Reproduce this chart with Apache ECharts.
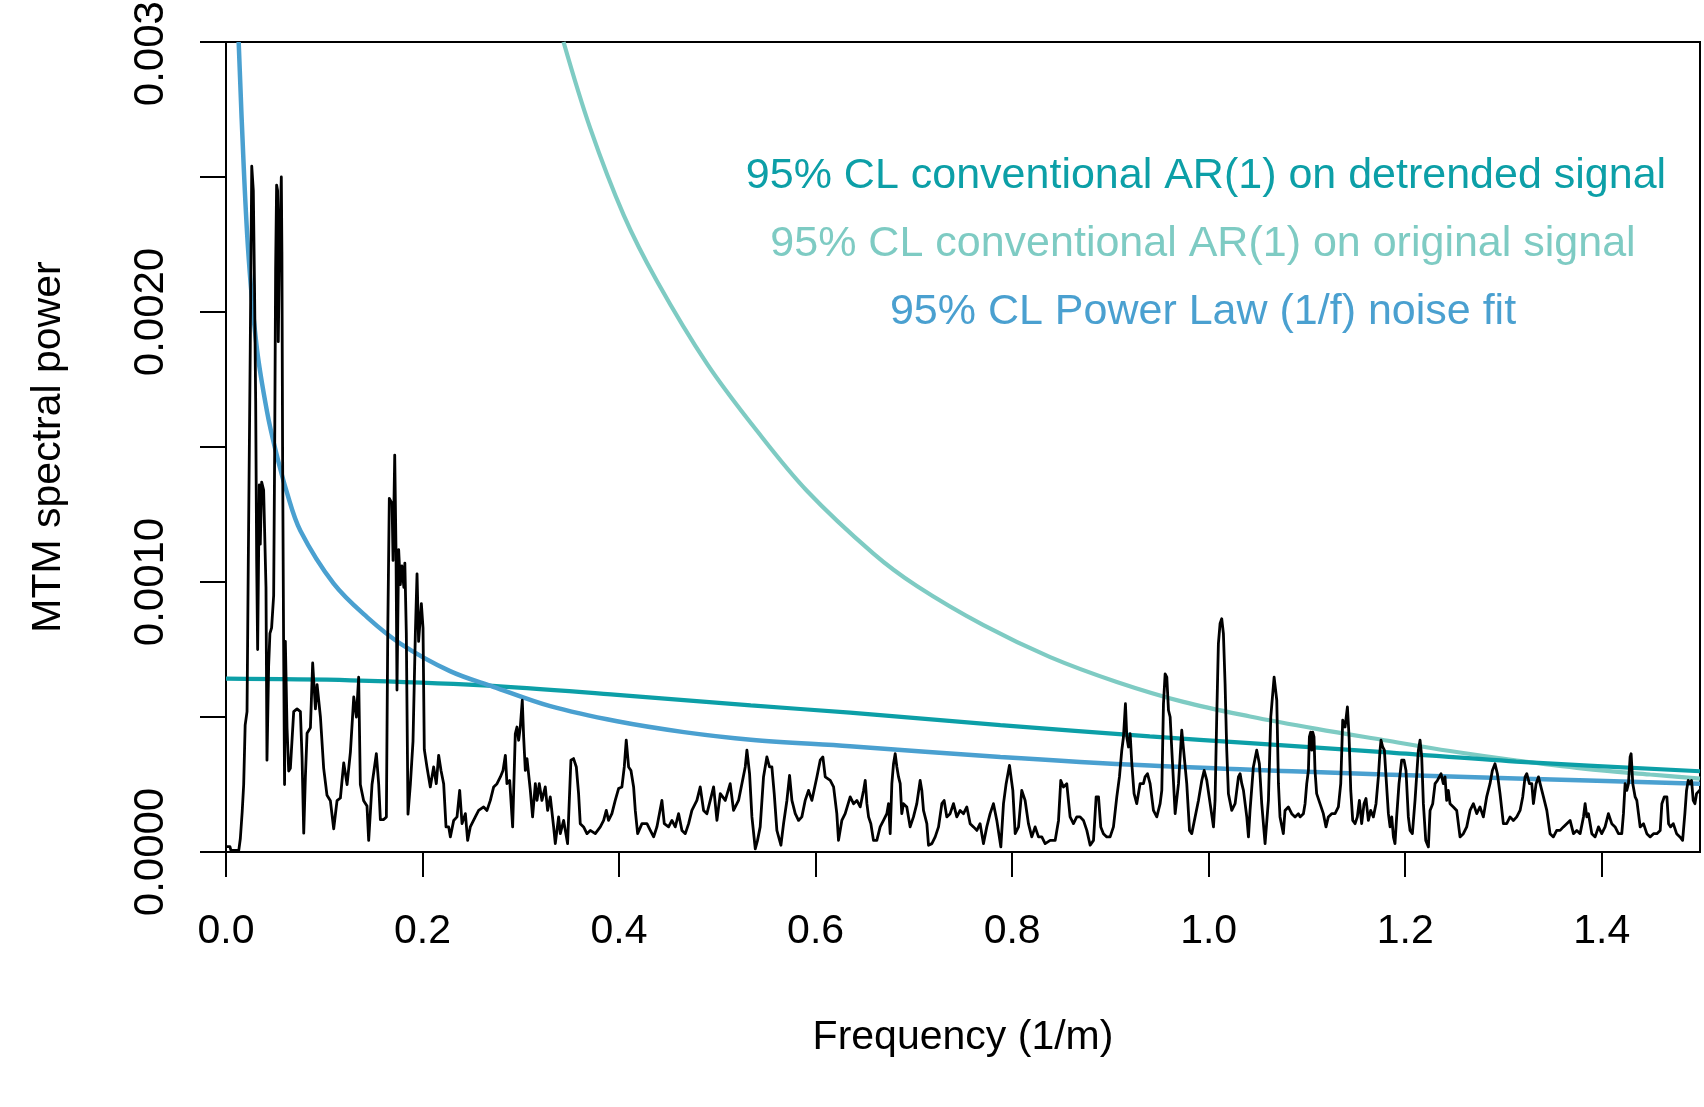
<!DOCTYPE html>
<html><head><meta charset="utf-8">
<script src="https://cdn.jsdelivr.net/npm/echarts@6/dist/echarts.min.js"></script>
<style>html,body{margin:0;padding:0;background:#fff}#chart{width:1704px;height:1107px}</style>
</head><body><div id="chart"></div>
<script>
// ---------- data (frequency in 1/m, MTM spectral power) ----------
const xTickValues = [0, 0.2, 0.4, 0.6, 0.8, 1.0, 1.2, 1.4];
const xTickLabels = ['0.0', '0.2', '0.4', '0.6', '0.8', '1.0', '1.2', '1.4'];
const yTickValues = [0, 0.0005, 0.001, 0.0015, 0.002, 0.0025, 0.003];
const yLabelValues = [0, 0.001, 0.002, 0.003];
const yLabelTexts = ['0.0000', '0.0010', '0.0020', '0.0030'];

const legendTexts = [
  '95% CL conventional AR(1) on detrended signal',
  '95% CL conventional AR(1) on original signal',
  '95% CL Power Law (1/f) noise fit'
];

// MTM spectrum (black)
const spectrum = [
  [0,0.02e-3],[0.004,0.02e-3],[0.005,0.006e-3],[0.013,0.006e-3],[0.0146,0.05e-3],[0.0165,0.15e-3],[0.018,0.25e-3],
  [0.0195,0.47e-3],[0.0214,0.52e-3],[0.0227,1.08e-3],[0.0247,1.87e-3],[0.0262,2.54e-3],[0.0278,2.45e-3],[0.029,2.10e-3],
  [0.0302,1.67e-3],[0.0312,1.08e-3],[0.0322,0.75e-3],[0.0339,1.36e-3],[0.0349,1.14e-3],[0.0363,1.37e-3],[0.0383,1.34e-3],
  [0.0397,1.34e-3],[0.0407,0.98e-3],[0.0417,0.34e-3],[0.0434,0.69e-3],[0.0447,0.81e-3],[0.0464,0.83e-3],[0.0485,0.95e-3],
  [0.0495,1.47e-3],[0.0505,2.16e-3],[0.0515,2.47e-3],[0.0525,2.45e-3],[0.0532,1.89e-3],[0.0542,2.18e-3],[0.0553,2.36e-3],
  [0.0563,2.50e-3],[0.0569,2.22e-3],[0.0576,1.47e-3],[0.0586,0.79e-3],[0.0596,0.25e-3],[0.0604,0.78e-3],[0.0621,0.46e-3],
  [0.0638,0.30e-3],[0.0655,0.31e-3],[0.0689,0.52e-3],[0.0723,0.53e-3],[0.0757,0.52e-3],[0.0774,0.35e-3],[0.0791,0.07e-3],
  [0.0808,0.28e-3],[0.0825,0.44e-3],[0.0859,0.46e-3],[0.0882,0.70e-3],[0.0910,0.53e-3],[0.0927,0.62e-3],[0.0961,0.50e-3],
  [0.0994,0.31e-3],[0.1028,0.21e-3],[0.1062,0.19e-3],[0.1096,0.086e-3],[0.1130,0.19e-3],[0.1164,0.20e-3],[0.1198,0.33e-3],
  [0.1232,0.25e-3],[0.1266,0.37e-3],[0.1300,0.574e-3],[0.1327,0.50e-3],[0.1350,0.648e-3],[0.1367,0.25e-3],[0.1401,0.19e-3],
  [0.1435,0.17e-3],[0.1452,0.043e-3],[0.1486,0.25e-3],[0.1530,0.364e-3],[0.1554,0.25e-3],[0.1571,0.12e-3],[0.1605,0.12e-3],
  [0.1632,0.13e-3],[0.1646,0.81e-3],[0.1662,1.31e-3],[0.1690,1.29e-3],[0.1700,1.08e-3],[0.1717,1.47e-3],[0.1730,1.12e-3],
  [0.1740,0.60e-3],[0.1757,1.12e-3],[0.1774,0.99e-3],[0.1790,1.06e-3],[0.1810,0.98e-3],[0.1820,1.07e-3],[0.1835,0.81e-3],
  [0.1852,0.14e-3],[0.1876,0.25e-3],[0.1903,0.41e-3],[0.1927,0.81e-3],[0.1944,1.03e-3],[0.1960,0.78e-3],[0.1988,0.92e-3],
  [0.2005,0.83e-3],[0.2018,0.38e-3],[0.2045,0.315e-3],[0.2079,0.241e-3],[0.2113,0.315e-3],[0.2140,0.253e-3],[0.2164,0.358e-3],
  [0.2188,0.302e-3],[0.2215,0.253e-3],[0.2239,0.093e-3],[0.2266,0.093e-3],[0.2283,0.056e-3],[0.2317,0.117e-3],[0.2351,0.130e-3],
  [0.2378,0.228e-3],[0.2402,0.105e-3],[0.2436,0.142e-3],[0.2459,0.043e-3],[0.2486,0.093e-3],[0.2537,0.130e-3],[0.2571,0.154e-3],
  [0.2622,0.167e-3],[0.2656,0.154e-3],[0.2690,0.191e-3],[0.2724,0.241e-3],[0.2758,0.253e-3],[0.2792,0.278e-3],[0.2819,0.302e-3],
  [0.2843,0.358e-3],[0.2859,0.253e-3],[0.2887,0.265e-3],[0.2917,0.093e-3],[0.2944,0.438e-3],[0.2961,0.463e-3],[0.2978,0.414e-3],
  [0.2995,0.463e-3],[0.3015,0.562e-3],[0.3029,0.426e-3],[0.3046,0.302e-3],[0.3063,0.346e-3],[0.3097,0.228e-3],[0.3120,0.130e-3],
  [0.3148,0.253e-3],[0.3165,0.191e-3],[0.3188,0.253e-3],[0.3215,0.191e-3],[0.3249,0.241e-3],[0.3273,0.154e-3],[0.3300,0.204e-3],
  [0.3334,0.093e-3],[0.3351,0.031e-3],[0.3385,0.130e-3],[0.3402,0.068e-3],[0.3436,0.117e-3],[0.3476,0.031e-3],[0.3510,0.340e-3],
  [0.3537,0.346e-3],[0.3565,0.315e-3],[0.3588,0.216e-3],[0.3605,0.105e-3],[0.3639,0.093e-3],[0.3673,0.068e-3],[0.3707,0.080e-3],
  [0.3758,0.068e-3],[0.3809,0.093e-3],[0.3843,0.117e-3],[0.3870,0.154e-3],[0.3893,0.117e-3],[0.3927,0.142e-3],[0.3961,0.191e-3],
  [0.3995,0.235e-3],[0.4029,0.241e-3],[0.4053,0.315e-3],[0.4073,0.414e-3],[0.4097,0.315e-3],[0.4121,0.302e-3],[0.4148,0.241e-3],
  [0.4165,0.154e-3],[0.4189,0.068e-3],[0.4233,0.105e-3],[0.4284,0.105e-3],[0.4318,0.080e-3],[0.4352,0.056e-3],[0.4385,0.093e-3],
  [0.4436,0.191e-3],[0.4460,0.105e-3],[0.4504,0.093e-3],[0.4538,0.117e-3],[0.4572,0.093e-3],[0.4606,0.142e-3],[0.4640,0.080e-3],
  [0.4674,0.068e-3],[0.4708,0.105e-3],[0.4741,0.154e-3],[0.4792,0.191e-3],[0.4826,0.241e-3],[0.4860,0.154e-3],[0.4894,0.142e-3],
  [0.4928,0.191e-3],[0.4962,0.241e-3],[0.4996,0.117e-3],[0.5030,0.216e-3],[0.5081,0.191e-3],[0.5131,0.253e-3],[0.5165,0.154e-3],
  [0.5216,0.191e-3],[0.5250,0.253e-3],[0.5284,0.315e-3],[0.5301,0.377e-3],[0.5328,0.290e-3],[0.5352,0.130e-3],[0.5386,0.012e-3],
  [0.5409,0.043e-3],[0.5436,0.093e-3],[0.5470,0.278e-3],[0.5504,0.352e-3],[0.5531,0.315e-3],[0.5555,0.315e-3],[0.5579,0.216e-3],
  [0.5606,0.080e-3],[0.5647,0.025e-3],[0.5674,0.105e-3],[0.5708,0.191e-3],[0.5735,0.284e-3],[0.5759,0.191e-3],[0.5793,0.142e-3],
  [0.5826,0.117e-3],[0.5860,0.130e-3],[0.5894,0.191e-3],[0.5928,0.228e-3],[0.5962,0.191e-3],[0.6013,0.278e-3],[0.6047,0.340e-3],
  [0.6074,0.352e-3],[0.6098,0.278e-3],[0.6149,0.265e-3],[0.6183,0.241e-3],[0.6216,0.142e-3],[0.6233,0.043e-3],[0.6267,0.117e-3],
  [0.6301,0.142e-3],[0.6352,0.204e-3],[0.6386,0.179e-3],[0.6420,0.191e-3],[0.6454,0.167e-3],[0.6488,0.228e-3],[0.6505,0.265e-3],
  [0.6522,0.179e-3],[0.6539,0.130e-3],[0.6562,0.105e-3],[0.6589,0.043e-3],[0.6623,0.043e-3],[0.6657,0.093e-3],[0.6691,0.117e-3],
  [0.6725,0.142e-3],[0.6742,0.179e-3],[0.6759,0.068e-3],[0.6776,0.253e-3],[0.6793,0.327e-3],[0.6810,0.364e-3],[0.6827,0.315e-3],
  [0.6844,0.278e-3],[0.6861,0.253e-3],[0.6877,0.142e-3],[0.6894,0.179e-3],[0.6928,0.167e-3],[0.6962,0.093e-3],[0.6996,0.130e-3],
  [0.7030,0.179e-3],[0.7064,0.265e-3],[0.7081,0.228e-3],[0.7098,0.154e-3],[0.7132,0.105e-3],[0.7149,0.025e-3],[0.7183,0.031e-3],
  [0.7217,0.056e-3],[0.7251,0.093e-3],[0.7285,0.179e-3],[0.7308,0.191e-3],[0.7335,0.130e-3],[0.7369,0.142e-3],[0.7403,0.179e-3],
  [0.7437,0.130e-3],[0.7471,0.154e-3],[0.7505,0.142e-3],[0.7539,0.167e-3],[0.7573,0.105e-3],[0.7607,0.093e-3],[0.7641,0.080e-3],
  [0.7674,0.105e-3],[0.7708,0.031e-3],[0.7742,0.093e-3],[0.7776,0.142e-3],[0.7810,0.179e-3],[0.7844,0.117e-3],[0.7885,0.019e-3],
  [0.7912,0.179e-3],[0.7939,0.253e-3],[0.7973,0.321e-3],[0.8007,0.228e-3],[0.8031,0.068e-3],[0.8065,0.093e-3],[0.8098,0.228e-3],
  [0.8132,0.191e-3],[0.8166,0.105e-3],[0.8200,0.056e-3],[0.8234,0.093e-3],[0.8268,0.056e-3],[0.8302,0.056e-3],[0.8336,0.031e-3],
  [0.8387,0.043e-3],[0.8438,0.043e-3],[0.8472,0.117e-3],[0.8495,0.265e-3],[0.8522,0.241e-3],[0.8556,0.253e-3],[0.8590,0.130e-3],
  [0.8624,0.105e-3],[0.8658,0.130e-3],[0.8692,0.130e-3],[0.8726,0.117e-3],[0.8760,0.080e-3],[0.8794,0.025e-3],[0.8828,0.043e-3],
  [0.8855,0.204e-3],[0.8879,0.204e-3],[0.8902,0.093e-3],[0.8929,0.068e-3],[0.8963,0.056e-3],[0.8997,0.056e-3],[0.9031,0.093e-3],
  [0.9065,0.204e-3],[0.9092,0.278e-3],[0.9116,0.377e-3],[0.9133,0.426e-3],[0.9153,0.549e-3],[0.9167,0.426e-3],[0.9184,0.389e-3],
  [0.9201,0.438e-3],[0.9218,0.327e-3],[0.9241,0.216e-3],[0.9268,0.179e-3],[0.9302,0.253e-3],[0.9336,0.253e-3],[0.9353,0.278e-3],
  [0.9377,0.290e-3],[0.9404,0.253e-3],[0.9438,0.154e-3],[0.9472,0.130e-3],[0.9506,0.179e-3],[0.9523,0.228e-3],[0.9540,0.549e-3],
  [0.9557,0.660e-3],[0.9574,0.648e-3],[0.9591,0.525e-3],[0.9608,0.500e-3],[0.9625,0.377e-3],[0.9659,0.142e-3],[0.9693,0.253e-3],
  [0.9726,0.451e-3],[0.9743,0.451e-3],[0.9777,0.253e-3],[0.9805,0.080e-3],[0.9828,0.068e-3],[0.9862,0.130e-3],[0.9896,0.191e-3],
  [0.9930,0.265e-3],[0.9954,0.302e-3],[0.9981,0.265e-3],[1.0015,0.179e-3],[1.0049,0.093e-3],[1.0065,0.191e-3],[1.0082,0.500e-3],
  [1.0099,0.772e-3],[1.0116,0.846e-3],[1.0133,0.864e-3],[1.0150,0.809e-3],[1.0167,0.623e-3],[1.0184,0.377e-3],[1.0201,0.216e-3],
  [1.0235,0.154e-3],[1.0269,0.179e-3],[1.0303,0.278e-3],[1.0320,0.290e-3],[1.0337,0.253e-3],[1.0354,0.228e-3],[1.0388,0.130e-3],
  [1.0405,0.056e-3],[1.0421,0.154e-3],[1.0455,0.315e-3],[1.0489,0.377e-3],[1.0516,0.327e-3],[1.0540,0.179e-3],[1.0574,0.031e-3],
  [1.0608,0.191e-3],[1.0632,0.500e-3],[1.0666,0.648e-3],[1.0693,0.562e-3],[1.0710,0.253e-3],[1.0726,0.130e-3],[1.0760,0.068e-3],
  [1.0777,0.154e-3],[1.0811,0.167e-3],[1.0845,0.142e-3],[1.0879,0.130e-3],[1.0913,0.142e-3],[1.0930,0.130e-3],[1.0964,0.142e-3],
  [1.0981,0.179e-3],[1.0998,0.253e-3],[1.1015,0.302e-3],[1.1025,0.426e-3],[1.1038,0.444e-3],[1.1049,0.377e-3],[1.1059,0.444e-3],
  [1.1072,0.426e-3],[1.1082,0.302e-3],[1.1099,0.216e-3],[1.1133,0.179e-3],[1.1167,0.142e-3],[1.1194,0.093e-3],[1.1218,0.130e-3],
  [1.1252,0.142e-3],[1.1286,0.142e-3],[1.1320,0.167e-3],[1.1344,0.253e-3],[1.1364,0.488e-3],[1.1388,0.463e-3],[1.1412,0.537e-3],
  [1.1429,0.426e-3],[1.1446,0.228e-3],[1.1466,0.117e-3],[1.1490,0.105e-3],[1.1513,0.130e-3],[1.1534,0.191e-3],[1.1557,0.105e-3],
  [1.1581,0.179e-3],[1.1601,0.198e-3],[1.1625,0.117e-3],[1.1649,0.154e-3],[1.1676,0.130e-3],[1.1703,0.179e-3],[1.1727,0.278e-3],
  [1.1744,0.377e-3],[1.1754,0.414e-3],[1.1771,0.389e-3],[1.1788,0.377e-3],[1.1805,0.278e-3],[1.1829,0.142e-3],[1.1846,0.093e-3],
  [1.1863,0.130e-3],[1.1880,0.056e-3],[1.1896,0.031e-3],[1.1913,0.130e-3],[1.1937,0.253e-3],[1.1964,0.340e-3],[1.1988,0.340e-3],
  [1.2008,0.302e-3],[1.2032,0.130e-3],[1.2049,0.080e-3],[1.2073,0.068e-3],[1.2100,0.191e-3],[1.2134,0.377e-3],[1.2151,0.414e-3],
  [1.2168,0.352e-3],[1.2185,0.179e-3],[1.2209,0.043e-3],[1.2236,0.019e-3],[1.2253,0.154e-3],[1.2280,0.179e-3],[1.2304,0.253e-3],
  [1.2328,0.265e-3],[1.2348,0.265e-3],[1.2365,0.290e-3],[1.2388,0.253e-3],[1.2405,0.278e-3],[1.2422,0.191e-3],[1.2439,0.228e-3],
  [1.2456,0.179e-3],[1.2490,0.167e-3],[1.2524,0.154e-3],[1.2558,0.056e-3],[1.2592,0.068e-3],[1.2626,0.093e-3],[1.2660,0.154e-3],
  [1.2694,0.179e-3],[1.2728,0.142e-3],[1.2761,0.167e-3],[1.2795,0.130e-3],[1.2829,0.204e-3],[1.2863,0.253e-3],[1.2887,0.302e-3],
  [1.2914,0.327e-3],[1.2938,0.290e-3],[1.2965,0.216e-3],[1.2999,0.105e-3],[1.3033,0.105e-3],[1.3067,0.130e-3],[1.3101,0.117e-3],
  [1.3135,0.130e-3],[1.3169,0.154e-3],[1.3196,0.204e-3],[1.3220,0.278e-3],[1.3237,0.290e-3],[1.3264,0.253e-3],[1.3288,0.253e-3],
  [1.3305,0.179e-3],[1.3332,0.253e-3],[1.3356,0.278e-3],[1.3373,0.253e-3],[1.3407,0.204e-3],[1.3441,0.154e-3],[1.3474,0.068e-3],
  [1.3508,0.056e-3],[1.3542,0.080e-3],[1.3576,0.080e-3],[1.3610,0.093e-3],[1.3644,0.105e-3],[1.3678,0.117e-3],[1.3712,0.068e-3],
  [1.3746,0.080e-3],[1.3780,0.068e-3],[1.3814,0.130e-3],[1.3831,0.179e-3],[1.3848,0.130e-3],[1.3865,0.142e-3],[1.3899,0.068e-3],
  [1.3933,0.056e-3],[1.3967,0.093e-3],[1.4000,0.068e-3],[1.4034,0.093e-3],[1.4068,0.142e-3],[1.4102,0.105e-3],[1.4136,0.093e-3],
  [1.4170,0.068e-3],[1.4204,0.068e-3],[1.4221,0.142e-3],[1.4238,0.253e-3],[1.4255,0.228e-3],[1.4272,0.253e-3],[1.4289,0.352e-3],
  [1.4299,0.364e-3],[1.4316,0.253e-3],[1.4340,0.204e-3],[1.4357,0.191e-3],[1.4374,0.142e-3],[1.4391,0.093e-3],[1.4425,0.105e-3],
  [1.4459,0.068e-3],[1.4493,0.056e-3],[1.4527,0.068e-3],[1.4561,0.068e-3],[1.4595,0.080e-3],[1.4612,0.179e-3],[1.4636,0.204e-3],
  [1.4663,0.204e-3],[1.4680,0.105e-3],[1.4701,0.093e-3],[1.4728,0.105e-3],[1.4762,0.068e-3],[1.4796,0.056e-3],[1.4823,0.043e-3],
  [1.4846,0.142e-3],[1.4863,0.228e-3],[1.4880,0.265e-3],[1.4897,0.253e-3],[1.4914,0.265e-3],[1.4931,0.191e-3],[1.4948,0.179e-3],
  [1.4965,0.216e-3],[1.4982,0.222e-3],[1.5,0.23e-3]
];

// 95% CL conventional AR(1) on detrended signal
const ar1Detrended = [
  [0,0.642e-3],[0.127,0.636e-3],[0.262,0.617e-3],[0.398,0.582e-3],[0.534,0.543e-3],[0.635,0.516e-3],
  [0.788,0.470e-3],[0.940,0.428e-3],[1.042,0.403e-3],[1.178,0.370e-3],[1.313,0.335e-3],[1.5,0.299e-3]
];
// 95% CL conventional AR(1) on original signal
const ar1Original = [
  [0.3435,3.0e-3],[0.3707,2.680e-3],[0.4046,2.360e-3],[0.4385,2.115e-3],[0.4894,1.809e-3],[0.5403,1.560e-3],
  [0.5911,1.338e-3],[0.6589,1.105e-3],[0.7030,0.985e-3],[0.7708,0.840e-3],[0.8387,0.722e-3],[0.9065,0.630e-3],
  [0.9743,0.556e-3],[1.0421,0.502e-3],[1.1099,0.456e-3],[1.1788,0.414e-3],[1.2456,0.374e-3],[1.3135,0.339e-3],
  [1.3814,0.309e-3],[1.4493,0.287e-3],[1.5,0.272e-3]
];
// 95% CL power law (1/f) noise fit
const powerLaw = [
  [0.0129,3.0e-3],[0.018,2.54e-3],[0.0231,2.20e-3],[0.0316,1.86e-3],[0.0418,1.63e-3],[0.0503,1.49e-3],
  [0.0621,1.33e-3],[0.0757,1.19e-3],[0.1096,0.994e-3],[0.1435,0.870e-3],[0.1774,0.772e-3],[0.228,0.670e-3],
  [0.272,0.612e-3],[0.33,0.540e-3],[0.398,0.484e-3],[0.466,0.444e-3],[0.534,0.416e-3],[0.635,0.392e-3],
  [0.788,0.352e-3],[0.940,0.320e-3],[1.093,0.298e-3],[1.178,0.287e-3],[1.313,0.272e-3],[1.5,0.253e-3]
];

// ---------- chart ----------
const FONT = '"Liberation Sans", Arial, Helvetica, sans-serif';
const COL_DETR = '#0c9fa7';
const COL_ORIG = '#7ecbc3';
const COL_PL = '#4aa0d0';

const chart = echarts.init(document.getElementById('chart'), null, {renderer: 'canvas'});
const option = {
  animation: false,
  backgroundColor: '#ffffff',
  textStyle: {fontFamily: FONT},
  grid: {left: 226, right: 4, top: 42, bottom: 255, show: true, borderColor: '#000', borderWidth: 2,
         backgroundColor: 'transparent', containLabel: false, outerBoundsMode: 'none'},
  xAxis: {
    type: 'value', min: 0, max: 1.5,
    axisLine: {show: false},
    splitLine: {show: false},
    axisTick: {show: true, customValues: xTickValues, length: 25, lineStyle: {color: '#000', width: 2}},
    axisLabel: {
      customValues: xTickValues, margin: 59, color: '#000', fontSize: 41, fontFamily: FONT,
      formatter: v => { const i = xTickValues.findIndex(t => Math.abs(t - v) < 1e-9); return i >= 0 ? xTickLabels[i] : ''; }
    },
    name: 'Frequency (1/m)', nameLocation: 'middle', nameGap: 165,
    nameTextStyle: {color: '#000', fontSize: 41, fontFamily: FONT}
  },
  yAxis: {
    type: 'value', min: 0, max: 0.003,
    axisLine: {show: false},
    splitLine: {show: false},
    axisTick: {show: true, customValues: yTickValues, length: 26, lineStyle: {color: '#000', width: 2}},
    axisLabel: {
      customValues: yLabelValues, rotate: 90, margin: 54, color: '#000', fontSize: 42, fontFamily: FONT,
      formatter: v => { const i = yLabelValues.findIndex(t => Math.abs(t - v) < 1e-12); return i >= 0 ? yLabelTexts[i] : ''; }
    },
    name: 'MTM spectral power', nameLocation: 'middle', nameGap: 157, nameRotate: 90,
    nameTextStyle: {color: '#000', fontSize: 41, fontFamily: FONT}
  },
  series: [
    {type: 'line', name: legendTexts[1], data: ar1Original, showSymbol: false, smooth: 0.35,
     lineStyle: {color: COL_ORIG, width: 4.2}, z: 2, silent: true},
    {type: 'line', name: legendTexts[0], data: ar1Detrended, showSymbol: false, smooth: 0.35,
     lineStyle: {color: COL_DETR, width: 4.2}, z: 3, silent: true},
    {type: 'line', name: legendTexts[2], data: powerLaw, showSymbol: false, smooth: 0.35,
     lineStyle: {color: COL_PL, width: 4.5}, z: 4, silent: true},
    {type: 'line', name: 'MTM spectrum', data: spectrum, showSymbol: false, smooth: false, sampling: null,
     lineStyle: {color: '#000', width: 2.8, join: 'round'}, z: 5, silent: true}
  ],
  graphic: [
    {type: 'text', z: 10, style: {x: 1206, y: 176, text: legendTexts[0], fill: COL_DETR, font: '43px ' + FONT, align: 'center', verticalAlign: 'middle'}},
    {type: 'text', z: 10, style: {x: 1203, y: 244, text: legendTexts[1], fill: COL_ORIG, font: '43px ' + FONT, align: 'center', verticalAlign: 'middle'}},
    {type: 'text', z: 10, style: {x: 1203, y: 312, text: legendTexts[2], fill: COL_PL, font: '43px ' + FONT, align: 'center', verticalAlign: 'middle'}}
  ]
};
chart.setOption(option);
</script></body></html>
